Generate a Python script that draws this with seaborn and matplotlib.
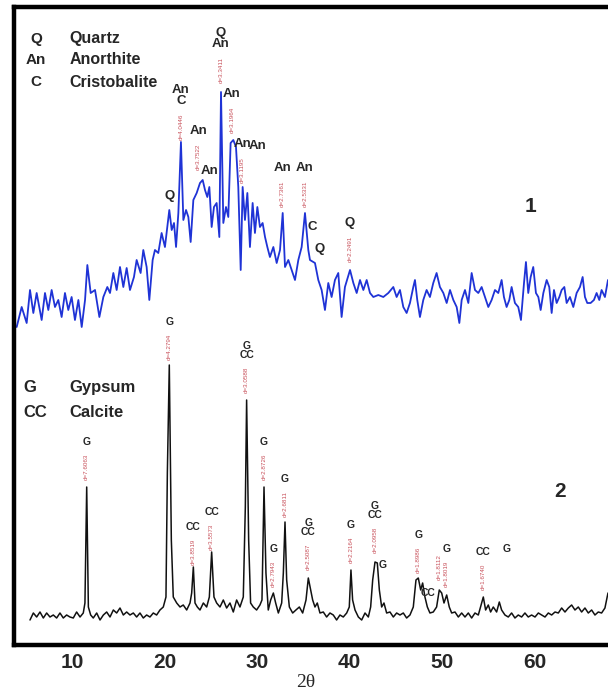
import numpy as np
import pandas as pd
import matplotlib
matplotlib.use("Agg")
import matplotlib.pyplot as plt
import seaborn as sns

# sample 1 (blue): 2-theta and intensity (arbitrary units)
blue_2theta = [4.02, 4.56, 5.10, 5.46, 5.82, 6.18, 6.72, 7.08, 7.44, 7.80, 8.16, 8.52, 8.88, 9.24,
               9.60, 9.96, 10.32, 10.69, 11.05, 11.41, 11.66, 12.02, 12.49, 12.96, 13.39, 13.82,
               14.11, 14.47, 14.83, 15.19, 15.55, 15.91, 16.27, 16.70, 16.99, 17.42, 17.71, 18.07,
               18.36, 18.72, 18.97, 19.33, 19.69, 20.05, 20.31, 20.52, 20.78, 21.03, 21.25, 21.50,
               21.78, 22.04, 22.33, 22.58, 22.83, 23.12, 23.48, 23.84, 24.13, 24.38, 24.63, 24.85,
               25.10, 25.35, 25.64, 25.93, 26.11, 26.36, 26.65, 26.90, 27.15, 27.44, 27.73, 27.98,
               28.24, 28.45, 28.70, 28.96, 29.24, 29.53, 29.78, 30.04, 30.32, 30.61, 30.87, 31.12,
               31.40, 31.77, 32.13, 32.49, 32.78, 33.03, 33.39, 33.75, 34.11, 34.47, 34.83, 35.19,
               35.55, 35.73, 36.27, 36.63, 36.99, 37.35, 37.71, 38.07, 38.43, 38.79, 39.15, 39.51,
               40.06, 40.42, 40.78, 41.14, 41.50, 41.86, 42.22, 42.58, 43.12, 43.66, 44.20, 44.74,
               45.10, 45.46, 45.82, 46.18, 46.54, 46.90, 47.08, 47.33, 47.62, 47.98, 48.34, 48.70,
               49.06, 49.42, 49.78, 50.15, 50.51, 50.87, 51.23, 51.59, 51.88, 52.13, 52.49, 52.85,
               53.21, 53.57, 53.93, 54.29, 54.65, 55.01, 55.37, 55.73, 56.09, 56.45, 56.70, 56.99,
               57.28, 57.53, 57.89, 58.25, 58.54, 58.87, 59.08, 59.33, 59.59, 59.87, 60.16, 60.42,
               60.67, 60.96, 61.32, 61.60, 61.86, 62.11, 62.40, 62.69, 62.94, 63.23, 63.48, 63.84,
               64.20, 64.56, 64.92, 65.21, 65.46, 65.71, 66.07, 66.43, 66.72, 67.01, 67.26, 67.62,
               67.95]
blue_counts = [318, 338, 322, 355, 332, 352, 325, 352, 335, 355, 338, 345, 328, 352,
               335, 348, 325, 345, 318, 345, 380, 352, 355, 328, 348, 358,
               352, 372, 355, 378, 358, 377, 355, 368, 385, 372, 395, 378,
               345, 385, 395, 392, 412, 398, 418, 435, 415, 422, 398, 432,
               503, 425, 435, 428, 403, 445, 452, 462, 465, 455, 448, 458,
               418, 438, 442, 408, 553, 422, 438, 428, 502, 505, 498, 458,
               375, 458, 425, 452, 398, 442, 412, 438, 418, 422, 408, 398,
               388, 398, 382, 395, 432, 378, 385, 375, 365, 385, 398, 432,
               395, 385, 382, 365, 355, 335, 362, 348, 365, 372, 328, 358,
               375, 362, 352, 365, 355, 365, 352, 348, 350, 348, 352, 358,
               348, 355, 338, 332, 342, 358, 365, 345, 328, 345, 355, 348,
               362, 372, 358, 352, 342, 355, 345, 338, 322, 345, 355, 342,
               372, 355, 352, 358, 348, 338, 345, 355, 352, 365, 348, 338,
               345, 358, 342, 338, 325, 362, 383, 352, 368, 378, 352, 348,
               335, 352, 365, 358, 332, 355, 342, 348, 355, 358, 342, 348,
               338, 352, 358, 368, 348, 342, 342, 345, 352, 345, 355, 348,
               365]

# sample 2 (black)
black_2theta = [5.46, 5.82, 6.18, 6.54, 6.90, 7.26, 7.62, 7.98, 8.34, 8.70, 9.06, 9.42, 9.78,
                10.14, 10.50, 10.87, 11.22, 11.40, 11.59, 11.77, 12.02, 12.30, 12.67, 13.03,
                13.39, 13.75, 14.11, 14.47, 14.83, 15.19, 15.55, 15.91, 16.27, 16.63, 16.99,
                17.35, 17.71, 18.07, 18.43, 18.79, 19.15, 19.51, 19.87, 20.16, 20.31, 20.52,
                20.74, 20.95, 21.32, 21.68, 22.03, 22.40, 22.76, 22.94, 23.12, 23.30, 23.55,
                23.84, 24.20, 24.56, 24.85, 25.10, 25.35, 25.64, 26.00, 26.36, 26.72, 27.08,
                27.44, 27.80, 28.16, 28.52, 28.74, 28.88, 29.10, 29.31, 29.60, 29.96, 30.32,
                30.54, 30.76, 30.97, 31.22, 31.48, 31.77, 32.02, 32.31, 32.67, 32.85, 33.03,
                33.21, 33.50, 33.86, 34.21, 34.58, 34.94, 35.30, 35.55, 35.80, 36.02, 36.27,
                36.52, 36.81, 37.17, 37.53, 37.89, 38.25, 38.61, 38.97, 39.33, 39.70, 39.98,
                40.16, 40.34, 40.60, 40.96, 41.32, 41.68, 42.04, 42.29, 42.51, 42.76, 43.01,
                43.23, 43.48, 43.73, 44.02, 44.38, 44.74, 45.10, 45.46, 45.82, 46.18, 46.54,
                46.90, 47.19, 47.44, 47.70, 47.91, 48.16, 48.42, 48.70, 49.06, 49.42, 49.71,
                49.97, 50.22, 50.51, 50.79, 51.05, 51.41, 51.77, 52.13, 52.49, 52.85, 53.21,
                53.57, 53.93, 54.29, 54.47, 54.72, 55.01, 55.26, 55.55, 55.91, 56.20, 56.45,
                56.81, 57.17, 57.53, 57.89, 58.25, 58.61, 58.97, 59.33, 59.69, 60.06, 60.42,
                60.78, 61.14, 61.50, 61.86, 62.22, 62.58, 62.94, 63.30, 63.66, 64.02, 64.38,
                64.74, 65.10, 65.46, 65.82, 66.18, 66.54, 66.90, 67.26, 67.62, 67.95]
black_counts = [25, 32, 28, 33, 27, 32, 28, 30, 27, 32, 27, 30, 28,
                27, 33, 28, 32, 42, 158, 38, 30, 27, 32, 25,
                30, 33, 28, 35, 32, 37, 30, 33, 30, 32, 28,
                32, 27, 30, 28, 32, 30, 35, 38, 48, 172, 280,
                105, 48, 42, 38, 40, 35, 42, 52, 78, 42, 38,
                35, 42, 38, 48, 93, 48, 42, 38, 45, 37, 42,
                33, 45, 38, 48, 138, 245, 105, 42, 38, 35, 40,
                45, 158, 72, 35, 45, 52, 42, 32, 42, 72, 123,
                65, 38, 32, 35, 38, 32, 45, 67, 55, 45, 38,
                42, 32, 33, 28, 32, 30, 25, 30, 28, 32, 38,
                75, 45, 35, 28, 25, 32, 28, 38, 65, 83, 82,
                55, 38, 42, 32, 33, 28, 32, 30, 32, 27, 30,
                38, 65, 67, 55, 62, 48, 38, 32, 33, 38, 55,
                52, 42, 50, 38, 32, 33, 28, 32, 28, 32, 27,
                32, 30, 42, 48, 35, 40, 33, 38, 33, 43, 35,
                30, 28, 32, 27, 30, 28, 32, 28, 30, 28, 32,
                30, 28, 32, 30, 33, 32, 37, 33, 37, 40, 35,
                38, 33, 37, 32, 35, 30, 33, 32, 37, 52]

# peak assignments
blue_peak_pos = [20.52, 21.78, 23.66, 24.90, 26.11, 27.30, 28.40, 30.10, 32.78, 35.19, 35.95, 36.80, 40.06]
blue_peak_phase = ["Q", "An\nC", "An", "An", "Q\nAn", "An", "An", "An", "An", "An", "C", "Q", "Q"]
blue_peak_d = ["", "d=4.0446", "d=3.7522", "", "d=3.3411", "d=3.1964", "d=3.1195", "",
               "d=2.7361", "d=2.5331", "", "", "d=2.2491"]

black_peak_pos = [11.59, 20.52, 23.12, 25.10, 28.88, 30.76, 31.77, 33.03, 35.55, 40.16, 42.76,
                  43.55, 47.44, 48.50, 49.71, 50.51, 54.47, 57.00]
black_peak_phase = ["G", "G", "CC", "CC", "G\nCC", "G", "G", "G", "G\nCC", "G", "G\nCC",
                    "G", "G", "CC", "", "G", "CC", "G"]
black_peak_d = ["d=7.6063", "d=4.2794", "d=3.8519", "d=3.5573", "d=3.0588", "d=2.8726",
                "d=2.7943", "d=2.6811", "d=2.5087", "d=2.2164", "d=2.0958", "", "d=1.8986",
                "", "d=1.8112", "d=1.8019", "d=1.6740", ""]

# gap (pixels) between peak top and its label
blue_lift = [8, 2, 13, 10, 9, 7, 4, 55, 6, 6, 27, 25, 8]
black_lift = [7, 5, 2, 2, 7, 7, 6, 5, 8, 7, 9, 33, 5, 9, 10, 8, 7, 61]

sns.set_style("white")
plt.rcParams['font.family'] = ['Liberation Sans', 'DejaVu Sans']

fig = plt.figure(figsize=(6.08, 6.94), dpi=100)
ax = fig.add_axes([14 / 608, 49 / 694, 600 / 608, 638 / 694])

df1 = pd.DataFrame({'two_theta': blue_2theta, 'counts': blue_counts})
df2 = pd.DataFrame({'two_theta': black_2theta, 'counts': black_counts})
sns.lineplot(data=df1, x='two_theta', y='counts', ax=ax, color='#1f33d6', lw=1.3, estimator=None)
sns.lineplot(data=df2, x='two_theta', y='counts', ax=ax, color='#111111', lw=1.1, estimator=None)

ax.set_xlim(3.73, 68.6)
ax.set_ylim(0, 638)
ax.set_xlabel('')
ax.set_ylabel('')
ax.set_yticks([])
ax.set_xticks([10, 20, 30, 40, 50, 60])
ax.tick_params(axis='x', direction='in', length=7, width=2.5, pad=6, labelsize=15)
for lbl in ax.get_xticklabels():
    lbl.set_fontweight('bold')
for sp in ax.spines.values():
    sp.set_linewidth(3.2)
    sp.set_color('black')

red = '#c8505a'


def peak_top(xs, ys, x0, w=0.25):
    xs = np.asarray(xs)
    ys = np.asarray(ys)
    return ys[np.abs(xs - x0) <= w].max()


def put_labels(xs, ys, pos, phases, dvals, lifts, size):
    for x0, ph, dv, lift in zip(pos, phases, dvals, lifts):
        top = peak_top(xs, ys, x0)
        off = lift
        if dv:
            ax.annotate(dv, (x0, top), xytext=(0, off), textcoords='offset pixels',
                        rotation=90, ha='center', va='bottom', fontsize=4.5, color=red)
            off += 33
        if ph:
            ax.annotate(ph, (x0, top), xytext=(0, off), textcoords='offset pixels',
                        ha='center', va='bottom', fontsize=size, fontweight='bold',
                        linespacing=0.85)


put_labels(blue_2theta, blue_counts, blue_peak_pos, blue_peak_phase, blue_peak_d, blue_lift, 9.5)
put_labels(black_2theta, black_counts, black_peak_pos, black_peak_phase, black_peak_d, black_lift, 7.5)

# phase keys
for sym, name, y in [("Q", "Quartz", 0.950), ("An", "Anorthite", 0.917), ("C", "Cristobalite", 0.882)]:
    ax.text(0.037, y, sym, transform=ax.transAxes, ha='center', va='center',
            fontsize=11, fontweight='bold')
    ax.text(0.093, y, name, transform=ax.transAxes, ha='left', va='center',
            fontsize=11.5, fontweight='bold')
for sym, name, y in [("G", "Gypsum", 0.404), ("CC", "Calcite", 0.365)]:
    ax.text(0.015, y, sym, transform=ax.transAxes, ha='left', va='center',
            fontsize=12, fontweight='bold')
    ax.text(0.093, y, name, transform=ax.transAxes, ha='left', va='center',
            fontsize=12, fontweight='bold')

ax.text(0.86, 0.687, "1", transform=ax.transAxes, ha='center', va='center',
        fontsize=15, fontweight='bold')
ax.text(0.91, 0.240, "2", transform=ax.transAxes, ha='center', va='center',
        fontsize=15, fontweight='bold')

fig.text(0.502, 0.016, "2θ", ha='center', va='center', fontsize=14,
         family=['Liberation Serif', 'DejaVu Serif'])

fig.savefig('out.png', dpi=100)
